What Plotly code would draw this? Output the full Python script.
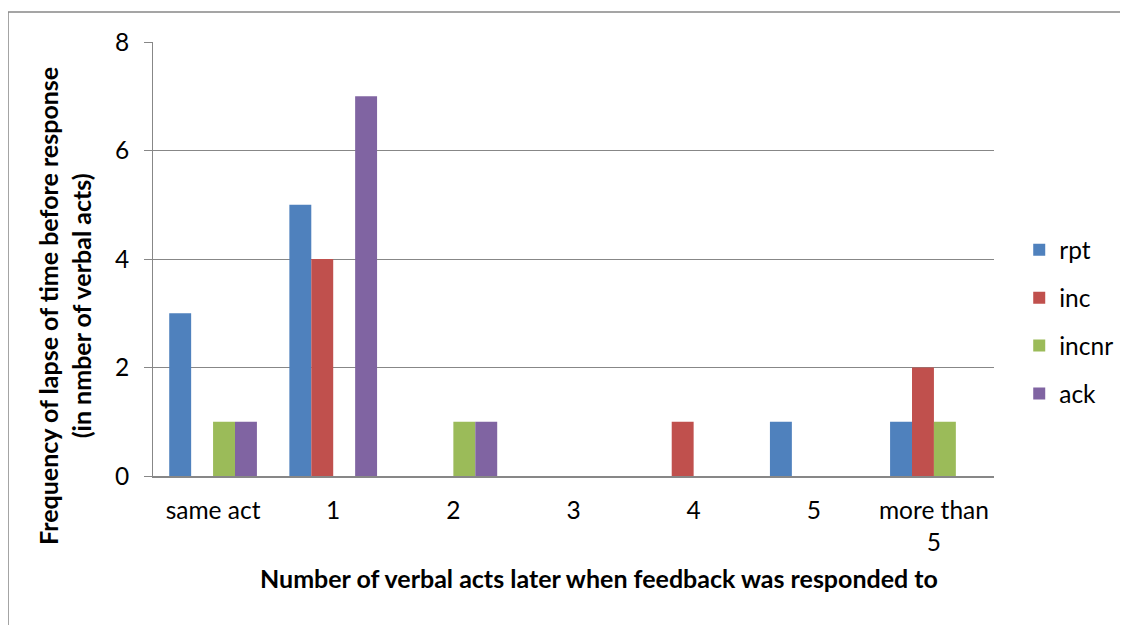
import plotly.graph_objects as go

categories = ["same act", "1", "2", "3", "4", "5", "more than<br>5"]
rpt = [3, 5, 0, 0, 0, 1, 1]
inc = [0, 4, 0, 0, 1, 0, 2]
incnr = [1, 0, 1, 0, 0, 0, 1]
ack = [1, 7, 1, 0, 0, 0, 0]

series = [
    ("rpt", rpt, "#4F81BD"),
    ("inc", inc, "#C0504D"),
    ("incnr", incnr, "#9BBB59"),
    ("ack", ack, "#8064A2"),
]

FONT = "Lato"
grid = "#878787"

fig = go.Figure()
for name, vals, color in series:
    fig.add_trace(go.Bar(
        x=categories, y=vals, name=name, legendgroup=name,
        marker=dict(color=color, line=dict(width=0)),
    ))

# page body adds ~8px offset, margins compensate for it
fig.update_layout(
    width=1128, height=625,
    margin=dict(l=145, r=142, t=34, b=157, autoexpand=False),
    paper_bgcolor="white", plot_bgcolor="white",
    font=dict(family=FONT, size=24.5, color="black"),
    barmode="group", bargap=0.27, bargroupgap=0,
    showlegend=True,
    legend=dict(
        x=1.03, y=0.355, xanchor="left", yanchor="middle",
        font=dict(size=24.5), tracegroupgap=13, itemwidth=30,
        bgcolor="rgba(0,0,0,0)",
    ),
    # outer chart border (Excel chart area), right/bottom run off the picture
    shapes=[dict(type="rect", xref="paper", yref="paper",
                 x0=-0.1724, x1=1.6, y0=-0.6, y1=1.069,
                 line=dict(color="#888888", width=1.5))],
    annotations=[
        dict(text="<b>Frequency of lapse of time before response<br>(in nmber of verbal acts)</b>",
             textangle=-90, xref="paper", yref="paper", x=-0.1046, y=0.392,
             xanchor="center", yanchor="middle", showarrow=False,
             font=dict(size=25)),
        dict(text="<b>Number of verbal acts later when feedback was responded to</b>",
             xref="paper", yref="paper", x=0.53, y=-0.235,
             xanchor="center", yanchor="middle", showarrow=False,
             font=dict(size=25)),
    ],
)

fig.update_yaxes(
    range=[0, 8], dtick=2, automargin=False,
    showgrid=True, gridcolor=grid, gridwidth=1,
    showline=True, linecolor=grid, linewidth=1,
    ticks="outside", ticklen=8, tickcolor=grid, ticklabelstandoff=10,
    zeroline=False,
)
fig.update_xaxes(
    automargin=False,
    showline=True, linecolor=grid, linewidth=1.5,
    ticks="", ticklabelstandoff=12, tickangle=0,
)

fig.write_html("out.html")
